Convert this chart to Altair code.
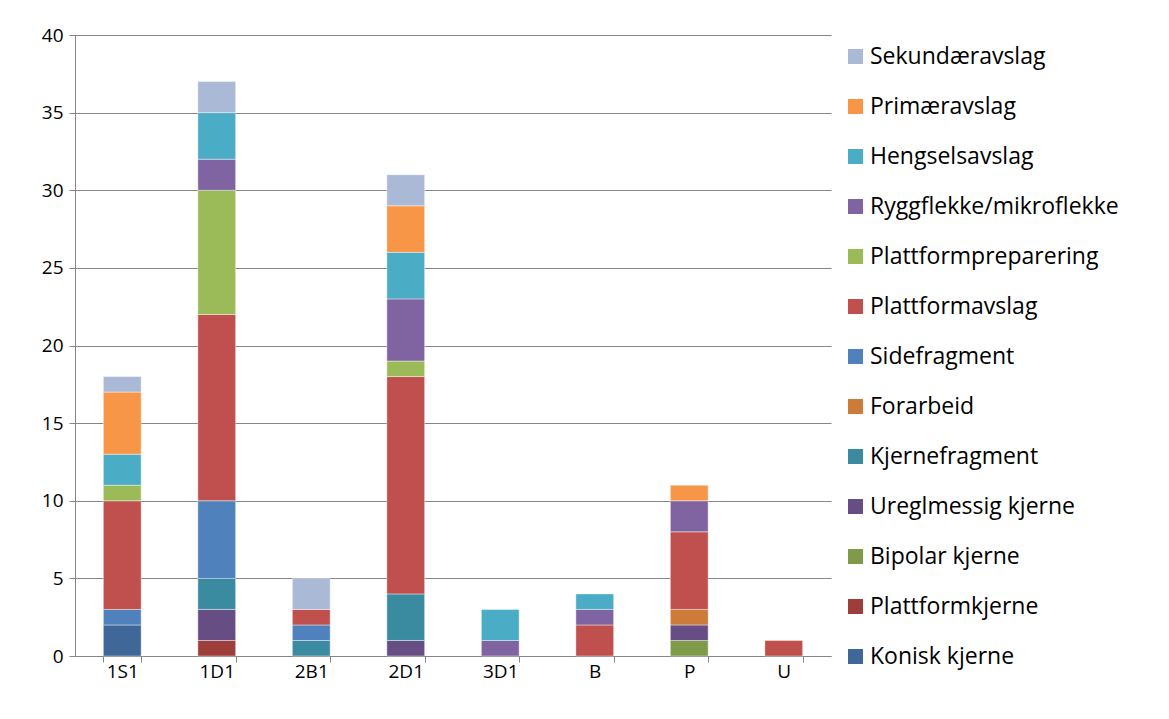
import altair as alt
import pandas as pd

sites = ["1S1", "1D1", "2B1", "2D1", "3D1", "B", "P", "U"]

# stacking order, bottom to top
types = [
    "Konisk kjerne", "Plattformkjerne", "Bipolar kjerne", "Ureglmessig kjerne",
    "Kjernefragment", "Forarbeid", "Sidefragment", "Plattformavslag",
    "Plattformpreparering", "Ryggflekke/mikroflekke", "Hengselsavslag",
    "Primæravslag", "Sekundæravslag",
]

konisk = [2, 0, 0, 0, 0, 0, 0, 0]
plattformkjerne = [0, 1, 0, 0, 0, 0, 0, 0]
bipolar = [0, 0, 0, 0, 0, 0, 1, 0]
ureglmessig = [0, 2, 0, 1, 0, 0, 1, 0]
kjernefragment = [0, 2, 1, 3, 0, 0, 0, 0]
forarbeid = [0, 0, 0, 0, 0, 0, 1, 0]
sidefragment = [1, 5, 1, 0, 0, 0, 0, 0]
plattformavslag = [7, 12, 1, 14, 0, 2, 5, 1]
plattformprep = [1, 8, 0, 1, 0, 0, 0, 0]
ryggflekke = [0, 2, 0, 4, 1, 1, 2, 0]
hengsel = [2, 3, 0, 3, 2, 1, 0, 0]
primaer = [4, 0, 0, 3, 0, 0, 1, 0]
sekundaer = [1, 2, 2, 2, 0, 0, 0, 0]

series = [konisk, plattformkjerne, bipolar, ureglmessig, kjernefragment, forarbeid,
          sidefragment, plattformavslag, plattformprep, ryggflekke, hengsel,
          primaer, sekundaer]

colors = ["#3F6797", "#9E3E3B", "#7F9A48", "#664D84", "#3B8BA0", "#CC7B38",
          "#4F81BD", "#C0504D", "#9BBB59", "#8064A2", "#4BACC6", "#F79646",
          "#AAB9D6"]

rows = []
for i, (t, vals) in enumerate(zip(types, series)):
    for s, v in zip(sites, vals):
        if v > 0:
            rows.append({"site": s, "type": t, "value": v, "ord": i})
df = pd.DataFrame(rows)

FONT = "Open Sans"

chart = alt.Chart(df).mark_bar(stroke="white", strokeWidth=0.6, strokeOpacity=0.7).encode(
    x=alt.X("site:N", sort=sites, title=None,
            scale=alt.Scale(paddingInner=0.6, paddingOuter=0.3),
            axis=alt.Axis(labelAngle=0, tickBand="extent", domainColor="#868686",
                          tickColor="#868686", tickSize=6, labelPadding=0,
                          labelFontSize=19, labelColor="#000000", labelFont=FONT)),
    y=alt.Y("value:Q", stack="zero", title=None,
            scale=alt.Scale(domain=[0, 40], nice=False),
            axis=alt.Axis(values=[0, 5, 10, 15, 20, 25, 30, 35, 40],
                          grid=True, gridColor="#868686", gridWidth=1,
                          domainColor="#868686", tickColor="#868686", tickSize=6,
                          labelPadding=6, labelFontSize=19, labelColor="#000000",
                          labelFont=FONT)),
    color=alt.Color("type:N",
                    scale=alt.Scale(domain=types[::-1], range=colors[::-1]),
                    legend=alt.Legend(title=None, orient="none", legendX=769, legendY=10,
                                      symbolType="square", symbolSize=225,
                                      symbolStrokeWidth=0, labelFontSize=23,
                                      labelFont=FONT, labelColor="#000000",
                                      rowPadding=26, labelOffset=3, padding=0,
                                      labelLimit=400)),
    order=alt.Order("ord:Q", sort="ascending"),
).properties(
    width=756, height=621,
    padding={"left": 67, "top": 27, "right": 330, "bottom": 55},
    autosize="none",
).configure_view(stroke=None)

chart.save("out.html", embed_options={"renderer": "svg", "actions": False})
